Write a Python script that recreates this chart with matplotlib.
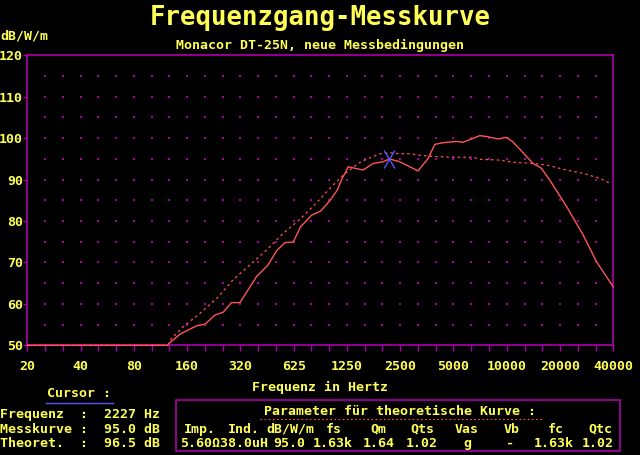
import matplotlib
matplotlib.use("Agg")
import matplotlib.pyplot as plt
from matplotlib.path import Path
from matplotlib.patches import Rectangle
from matplotlib.lines import Line2D
import numpy as np

# ---- data ----
meas_f = [20, 124, 127, 146, 181, 202, 230, 256, 285, 318, 395, 459, 512, 571, 636,
          700, 808, 910, 1025, 1130, 1200, 1260, 1300, 1580, 1800, 2050, 2227, 2545,
          3230, 3680, 4015, 4470, 5320, 5800, 7200, 7870, 9150, 10190, 11100, 14400,
          16100, 17900, 22300, 27700, 32900, 40960]
meas_db = [50, 50, 50.5, 52.7, 54.7, 55.1, 57.3, 58.0, 60.3, 60.3, 66.6, 69.4, 72.8, 74.8, 74.9,
           78.6, 81.4, 82.4, 84.9, 87.5, 90.2, 91.8, 93.1, 92.3, 93.9, 94.3, 95.0, 94.3,
           92.1, 95.1, 98.5, 98.9, 99.2, 99.0, 100.6, 100.4, 99.8, 100.2, 99.1, 93.9,
           92.7, 89.9, 83.5, 76.6, 70.2, 64.1]

theo_f = [20, 124, 130, 152, 189, 235, 291, 362, 450, 558, 694, 862, 1070, 1220, 1481,
          1650, 1963, 2227, 2440, 2965, 3230, 3927, 4875, 6608, 7200, 9352, 11100, 14400,
          17200, 22300, 27700, 34300, 39300]
theo_db = [50, 50, 51.5, 54.5, 57.7, 61.3, 65.8, 69.4, 73.0, 77.0, 80.4, 84.4, 88.7, 91.1, 93.9,
           94.9, 96.2, 96.5, 96.3, 96.2, 95.9, 95.6, 95.4, 95.4, 94.9, 94.7, 94.2, 93.9,
           93.5, 92.3, 91.5, 90.3, 89.1]

cursor_f = 2227
cursor_meas = 95.0
cursor_theo = 96.5

x_tick_vals = [20, 40, 80, 160, 320, 640, 1280, 2560, 5120, 10240, 20480, 40960]
x_tick_labels = ["20", "40", "80", "160", "320", "625", "1250", "2500", "5000",
                 "10000", "20000", "40000"]
y_ticks = [50, 60, 70, 80, 90, 100, 110, 120]

param_headers = ["Imp.", "Ind.", "dB/W/m", "fs", "Qm", "Qts", "Vas", "Vb", "fc", "Qtc"]
param_values = ["5.60\u03a938.0uH", "95.0", "1.63k", "1.64", "1.02", "g", "-", "1.63k", "1.02"]

# ---- style ----
BG = "black"
YEL = "#ffff55"
MAG = "#aa00aa"
RED = "#ff5555"
BLUE = "#5555ff"
FONT = "DejaVu Sans Mono"

W, H = 640, 455
fig = plt.figure(figsize=(W / 100, H / 100), dpi=100, facecolor=BG)

def fx(x):
    return x / W

def fy(y):
    return 1 - y / H

L, R, T, B = 27.3, 613.3, 55.3, 345.3
ax = fig.add_axes([fx(L), fy(B), fx(R) - fx(L), fy(T) - fy(B)])
ax.set_facecolor(BG)
ax.set_xscale("log", base=2)
ax.set_xlim(20, 40960)
ax.set_ylim(50, 120)

for s in ax.spines.values():
    s.set_color(MAG)
    s.set_linewidth(1.2)

# grid dots
gx = [20 * 2 ** (k / 3) for k in range(1, 33)]
gy = list(range(55, 120, 5))
GX, GY = np.meshgrid(gx, gy)
ax.scatter(GX.ravel(), GY.ravel(), s=1.2, marker="s", color=MAG, linewidths=0, zorder=1)

ax.plot(meas_f, meas_db, color=RED, lw=1.0, zorder=3, clip_on=False)
ax.plot(theo_f, theo_db, color=RED, lw=0.9, ls=(0, (2, 2.5)), zorder=3)

xm = Path([(-0.6, -1), (0.6, 1), (-0.6, 1), (0.6, -1)],
          [Path.MOVETO, Path.LINETO, Path.MOVETO, Path.LINETO])
ax.plot([cursor_f], [cursor_meas], marker=xm, markersize=13, color=BLUE,
        mew=1.0, ls="none", zorder=4)

ax.set_xticks(x_tick_vals)
ax.set_xticklabels(x_tick_labels)
ax.set_xticks([20 * 2 ** (k / 3) for k in range(0, 34)], minor=True)
ax.xaxis.set_minor_formatter(plt.NullFormatter())
ax.tick_params(axis="x", which="both", direction="out", length=4.3, width=1.0,
               color=MAG, pad=6, labelsize=9.5, labelcolor=YEL)
ax.set_yticks(y_ticks)
ax.tick_params(axis="y", direction="out", length=3, width=1.0, color=MAG,
               labelcolor=YEL, pad=0, labelsize=9.5)
for lab in ax.get_xticklabels() + ax.get_yticklabels():
    lab.set_fontfamily(FONT)
    lab.set_fontweight("bold")

def txt(x, y, s, size=9.5, ha="left", color=YEL, weight="bold"):
    # y is the vertical centre of the capitals in pixels; place by baseline
    cap = size / 72 * 100 * 0.73
    fig.text(fx(x), fy(y + cap / 2), s, fontsize=size, ha=ha, va="baseline",
             color=color, family=FONT, fontweight=weight)

txt(320, 16, "Frequenzgang-Messkurve", size=18.5, ha="center")
txt(0, 35, "dB/W/m")
txt(320, 44, "Monacor DT-25N, neue Messbedingungen", ha="center")
txt(320, 386, "Frequenz in Hertz", ha="center")

txt(79, 392, "Cursor :", ha="center")
fig.add_artist(Line2D([fx(46), fx(113)], [fy(403), fy(403)], color=BLUE, lw=1))
txt(0, 413, "Frequenz  :  %d Hz" % cursor_f)
txt(0, 428, "Messkurve :  %.1f dB" % cursor_meas)
txt(0, 442, "Theoret.  :  %.1f dB" % cursor_theo)

fig.add_artist(Rectangle((fx(175.5), fy(451)), fx(619.6) - fx(175.5), fy(400.3) - fy(451),
                         transform=fig.transFigure, fill=False, edgecolor=MAG, lw=1.2))
txt(400, 410.5, "Parameter f\u00fcr theoretische Kurve :", ha="center")
fig.add_artist(Line2D([fx(260), fx(542)], [fy(419), fy(419)], color=RED, lw=0.8,
                      ls=(0, (1.5, 2.2))))

hx = [200, 243.7, 290, 333.5, 378.5, 422, 467, 512, 555.5, 600]
for x, s in zip(hx, param_headers):
    txt(x, 428, s, ha="center")
vx = [224, 289.4, 332.7, 378.4, 421.6, 467, 510, 554, 598]
for x, s in zip(vx, param_values):
    txt(x, 442, s, ha="center")

fig.savefig("out.png", dpi=100, facecolor=BG)
